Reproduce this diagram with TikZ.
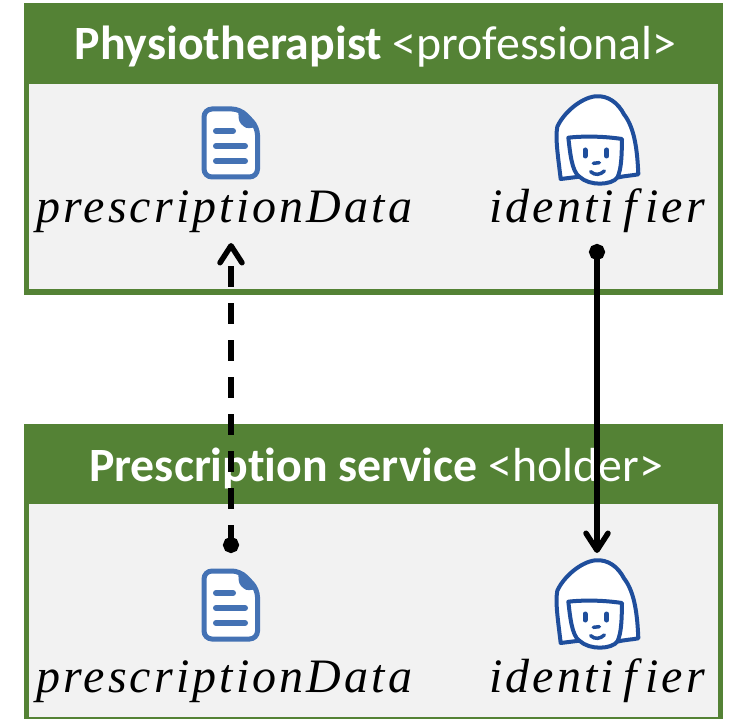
\documentclass[tikz,border=0pt]{standalone}
\usepackage{fontspec}
\setmainfont[Ligatures=NoCommon]{Carlito}
\newfontfamily\varfont[LetterSpace=6.5,Ligatures=NoCommon]{Liberation Serif}
\usetikzlibrary{arrows.meta}
\definecolor{headgreen}{HTML}{548235}
\definecolor{bodygrey}{HTML}{F2F2F2}
\definecolor{docblue}{HTML}{4472B4}
\definecolor{faceblue}{HTML}{1F4E9C}
\tikzset{
    docicon/.pic={
        \fill[white,rounded corners=6pt] (2,2) -- (38,2) -- (55.5,20) -- (55.5,70) -- (2,70) -- cycle;
        \draw[docblue,line width=5pt,rounded corners=8pt] (2,2) -- (38,2) -- (55.5,20) -- (55.5,70) -- (2,70) -- cycle;
        \fill[docblue,rounded corners=3pt] (36,1) -- (57,20) -- (44,21.5) -- (37,15) -- cycle;
        \foreach \y/\x in {24/31,39/43,54/43} {
            \draw[docblue,line width=6pt,line cap=round] (14,\y) -- (\x,\y);
        }
    },
    faceicon/.pic={
        \begin{scope}[scale=1/3]
        \draw[faceblue,line width=4pt,fill=white,line join=round] (62,282) .. controls (55,220) and (45,160) .. (52,125) .. controls (70,85) and (120,40) .. (165,34) .. controls (205,30) and (235,55) .. (252,88) .. controls (285,130) and (292,200) .. (295,268) .. controls (275,272) and (255,272) .. (232,278) .. controls (215,300) and (150,305) .. (118,275) -- cycle;
        \draw[faceblue,line width=4pt,line join=round] (118,275) .. controls (95,260) and (90,200) .. (85,158) .. controls (140,152) and (200,155) .. (246,162) .. controls (245,210) and (245,250) .. (232,278);
        \draw[faceblue,line width=5pt,line cap=round] (135,195) -- (135,213) (200,195) -- (200,213);
        \draw[faceblue,line width=3.5pt,line cap=round] (160,235) -- (178,233);
        \draw[faceblue,line width=3.5pt,line cap=round] (152,260) .. controls (165,272) and (180,270) .. (193,258);
        \end{scope}
    }
}
\begin{document}
\begin{tikzpicture}[x=1pt,y=-1pt]
    \tikzstyle{every node}=[inner sep=0pt,outer sep=0pt]
    \tikzstyle{bodybox}=[draw=headgreen,fill=bodygrey,line width=5.5pt]
    \tikzstyle{headbox}=[draw=headgreen,fill=headgreen,line width=5.5pt]
    \tikzstyle{titletext}=[text=white,font=\fontsize{47.8}{52}\selectfont,anchor=base]
    \tikzstyle{vartext}=[font=\fontsize{48}{52}\varfont\itshape,anchor=base]
    \tikzstyle{conn}=[line width=5.5pt,{Circle[length=16pt,width=16pt]}-{Straight Barb[length=17pt,width=22pt,line width=5.5pt,round]}]
    \useasboundingbox (0,0) rectangle (731,719);
    % top box
    \draw[bodybox] (26.5,81) rectangle (720.5,292);
    \draw[headbox] (26.5,6) rectangle (720.5,81);
    \node[titletext] (proTitle) at (375.5,60) {\textbf{Physiotherapist} <professional>};
    \pic at (202,107) {docicon};
    \pic at (540,85) {faceicon};
    \node[vartext] (proData) at (224.5,223) {prescriptionData};
    \node[vartext] (proId) at (597,223) {identi\kern9pt f\kern9pt ier};
    % bottom box
    \draw[bodybox] (26.5,501) rectangle (720.5,720);
    \draw[headbox] (26.5,427) rectangle (720.5,501);
    \node[titletext] (holderTitle) at (376,481) {\textbf{Prescription service} <holder>};
    \pic at (202,569) {docicon};
    \pic at (540,549) {faceicon};
    \node[vartext] (holderData) at (224.5,692) {prescriptionData};
    \node[vartext] (holderId) at (597,692) {identi\kern9pt f\kern9pt ier};
    % links
    \coordinate (proDataIn) at (231,243);
    \coordinate (proIdOut) at (597,244);
    \coordinate (holderDataOut) at (231,553);
    \coordinate (holderIdIn) at (597,553);
    \draw[conn,dash pattern=on 21pt off 16pt,dash phase=6pt] (holderDataOut) -- (proDataIn);
    \draw[conn] (proIdOut) -- (holderIdIn);
\end{tikzpicture}
\end{document}
